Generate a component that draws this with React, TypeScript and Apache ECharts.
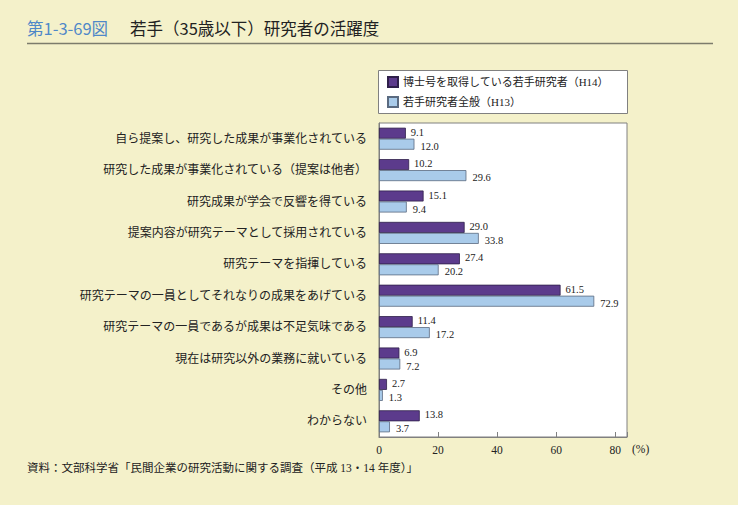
import React, { useEffect, useRef } from "react";
import * as echarts from "echarts";

const categories = [
  "自ら提案し、研究した成果が事業化されている",
  "研究した成果が事業化されている（提案は他者）",
  "研究成果が学会で反響を得ている",
  "提案内容が研究テーマとして採用されている",
  "研究テーマを指揮している",
  "研究テーマの一員としてそれなりの成果をあげている",
  "研究テーマの一員であるが成果は不足気味である",
  "現在は研究以外の業務に就いている",
  "その他",
  "わからない",
];
const seriesNames = ["博士号を取得している若手研究者（H14）", "若手研究者全般（H13）"];
const doctorValues = [9.1, 10.2, 15.1, 29.0, 27.4, 61.5, 11.4, 6.9, 2.7, 13.8];
const generalValues = [12.0, 29.6, 9.4, 33.8, 20.2, 72.9, 17.2, 7.2, 1.3, 3.7];
const xTicks = [0, 20, 40, 60, 80];

const SERIF = "'Liberation Serif', 'DejaVu Serif', 'Noto Sans CJK JP', serif";
const SANS = "'Noto Sans CJK JP', 'Noto Sans', sans-serif";

export default function App() {
  const ref = useRef<HTMLDivElement>(null);
  useEffect(() => {
    if (!ref.current) return;
    const chart = echarts.init(ref.current, undefined, { renderer: "svg" });
    const plotLeft = 379, plotTop = 123, plotRight = 627, plotBottom = 437;
    chart.setOption({
      animation: false,
      backgroundColor: "#f4f1ca",
      grid: {
        left: plotLeft,
        top: plotTop,
        right: 738 - plotRight,
        bottom: 505 - plotBottom,
        show: true,
        backgroundColor: "#ffffff",
        borderColor: "#808080",
        borderWidth: 1,
      },
      legend: {
        orient: "vertical",
        left: 382,
        top: 71,
        itemWidth: 10,
        itemHeight: 10,
        itemGap: 8,
        icon: "rect",
        textStyle: { fontFamily: SERIF, fontSize: 11, color: "#222" },
        data: seriesNames,
      },
      xAxis: {
        type: "value",
        min: 0,
        max: 84,
        interval: 20,
        axisLine: { show: true, lineStyle: { color: "#808080" } },
        axisTick: { show: true, inside: true, length: 5, lineStyle: { color: "#808080" } },
        splitLine: { show: false },
        axisLabel: {
          fontFamily: SERIF,
          fontSize: 11.5,
          color: "#222",
          margin: 7,
          formatter: (v: number) => (xTicks.includes(v) ? String(v) : ""),
        },
      },
      yAxis: {
        type: "category",
        inverse: true,
        data: categories,
        axisLine: { show: true, lineStyle: { color: "#808080" } },
        axisTick: { show: false },
        axisLabel: { fontFamily: SERIF, fontSize: 12, color: "#222", margin: 12 },
      },
      series: [
        {
          name: seriesNames[0],
          type: "bar",
          data: doctorValues,
          barWidth: 11,
          barGap: "0%",
          itemStyle: { color: "#5c3b8c", borderColor: "#2e1f4a", borderWidth: 0.8 },
          label: {
            show: true,
            position: "right",
            distance: 5,
            offset: [0, -1],
            formatter: (p: any) => p.value.toFixed(1),
            fontFamily: SERIF,
            fontSize: 10.5,
            color: "#222",
          },
        },
        {
          name: seriesNames[1],
          type: "bar",
          data: generalValues,
          barWidth: 11,
          barGap: "0%",
          itemStyle: { color: "#a9cbea", borderColor: "#5a6a80", borderWidth: 0.8 },
          label: {
            show: true,
            position: "right",
            distance: 6,
            offset: [0, 2],
            formatter: (p: any) => p.value.toFixed(1),
            fontFamily: SERIF,
            fontSize: 10.5,
            color: "#222",
          },
        },
      ],
      graphic: [
        {
          type: "rect",
          z: -1,
          shape: { x: 378.5, y: 70.5, width: 249, height: 43 },
          style: { fill: "#ffffff", stroke: "#808080", lineWidth: 1 },
        },
        {
          type: "text",
          x: 27,
          y: 20,
          style: { text: "第1-3-69図", fill: "#4f88c8", font: `16.5px ${SANS}` },
        },
        {
          type: "text",
          x: 130,
          y: 20,
          style: { text: "若手（35歳以下）研究者の活躍度", fill: "#222", font: `16.5px ${SANS}` },
        },
        {
          type: "line",
          shape: { x1: 27, y1: 43.5, x2: 713, y2: 43.5 },
          style: { stroke: "#7c7c6c", lineWidth: 1.5 },
        },
        {
          type: "text",
          x: 632,
          y: 443,
          style: { text: "(%)", fill: "#222", font: `11.5px ${SERIF}` },
        },
        {
          type: "text",
          x: 27,
          y: 462,
          style: {
            text: "資料：文部科学省「民間企業の研究活動に関する調査（平成 13・14 年度）」",
            fill: "#222",
            font: `11.5px ${SERIF}`,
          },
        },
      ],
    });
    return () => chart.dispose();
  }, []);
  return (
    <div
      ref={ref}
      style={{ position: "absolute", left: 0, top: 0, width: 738, height: 505 }}
    />
  );
}
